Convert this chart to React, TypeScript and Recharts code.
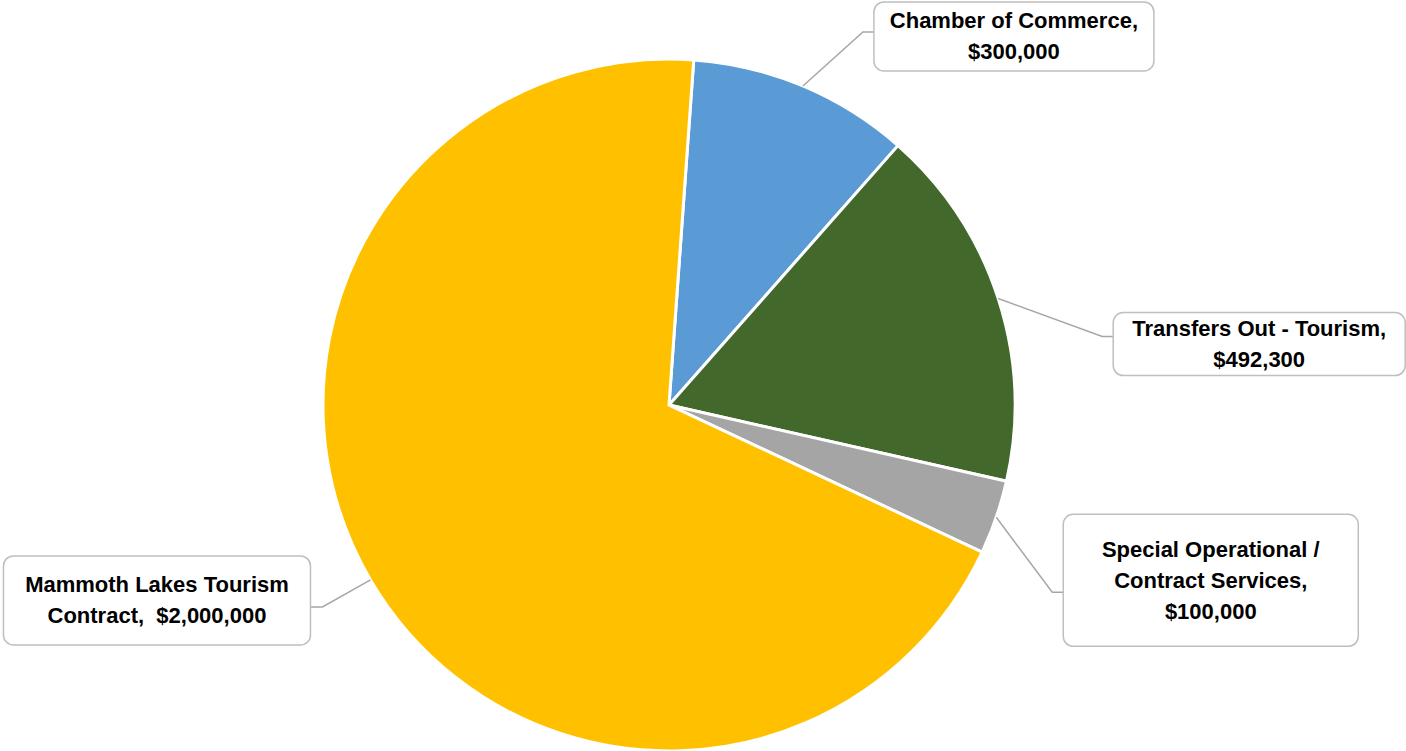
import { PieChart, Pie, Cell } from 'recharts';

// Budget allocation (from the chart)
const categories = [
  'Chamber of Commerce',
  'Transfers Out - Tourism',
  'Special Operational / Contract Services',
  'Mammoth Lakes Tourism Contract',
];
const amounts = [300000, 492300, 100000, 2000000];
const colors = ['#5B9BD5', '#43682B', '#A5A5A5', '#FFC000'];

// Label text as it wraps in the callouts; value appended after
const labelLines = [
  ['Chamber of Commerce,'],
  ['Transfers Out - Tourism,'],
  ['Special Operational /', 'Contract Services,'],
  ['Mammoth Lakes Tourism', 'Contract, '],
];
const valueInline = [false, false, false, true];

// Callout box placement relative to the slice's edge point
const calloutLayout = [
  { dx: 71, dy: -84, w: 280, h: 69, elbowY: 30 },
  { dx: 115, dy: 14, w: 292, h: 63, elbowY: 24 },
  { dx: 67, dy: -3, w: 295, h: 132, elbowY: 78 },
  { dx: -367, dy: -24, w: 307, h: 89, elbowY: 51 },
];

const data = categories.map((name, i) => ({ name, value: amounts[i] }));

const RADIAN = Math.PI / 180;
const FONT = '"Liberation Sans", Arial, sans-serif';

const fmt = (v: number) => '$' + v.toLocaleString('en-US');

const renderCallout = (props: any) => {
  const { cx, cy, midAngle, outerRadius, index, value } = props;
  const ax = cx + Math.cos(-midAngle * RADIAN) * outerRadius;
  const ay = cy + Math.sin(-midAngle * RADIAN) * outerRadius;
  const lay = calloutLayout[index];
  const bx = ax + lay.dx;
  const by = ay + lay.dy;
  const rightSide = lay.dx > 0;
  const edgeX = rightSide ? bx : bx + lay.w;
  const elbowX = rightSide ? edgeX - 11 : edgeX + 12;
  const elbowY = by + lay.elbowY;

  const lines = [...labelLines[index]];
  if (valueInline[index]) {
    lines[lines.length - 1] = lines[lines.length - 1] + ' ' + fmt(value);
  } else {
    lines.push(fmt(value));
  }
  const lineH = 31;
  const midY = by + lay.h / 2;
  const firstY = midY - ((lines.length - 1) * lineH) / 2;

  return (
    <g key={`callout-${index}`}>
      <polyline
        points={`${ax},${ay} ${elbowX},${elbowY} ${edgeX},${elbowY}`}
        fill="none"
        stroke="#A6A6A6"
        strokeWidth={1.5}
      />
      <rect
        x={bx}
        y={by}
        width={lay.w}
        height={lay.h}
        rx={10}
        ry={10}
        fill="#FFFFFF"
        stroke="#BFBFBF"
        strokeWidth={1.5}
      />
      {lines.map((t, j) => (
        <text
          key={j}
          x={bx + lay.w / 2}
          y={firstY + j * lineH}
          textAnchor="middle"
          dominantBaseline="central"
          fontFamily={FONT}
          fontWeight="bold"
          fontSize={22}
          fill="#000000"
          style={{ whiteSpace: 'pre' }}
        >
          {t}
        </text>
      ))}
    </g>
  );
};

export default function App() {
  return (
    <div style={{ position: 'absolute', left: 0, top: 0, width: 1406, height: 751, background: '#fff' }}>
      <PieChart width={1406} height={751} margin={{ top: 0, right: 0, bottom: 0, left: 0 }}>
        <Pie
          data={data}
          dataKey="value"
          nameKey="name"
          cx={669}
          cy={405}
          outerRadius={346}
          startAngle={85.9}
          endAngle={-274.1}
          stroke="#FFFFFF"
          strokeWidth={3}
          label={renderCallout}
          labelLine={false}
          isAnimationActive={false}
        >
          {data.map((entry, i) => (
            <Cell key={entry.name} fill={colors[i]} />
          ))}
        </Pie>
      </PieChart>
    </div>
  );
}
